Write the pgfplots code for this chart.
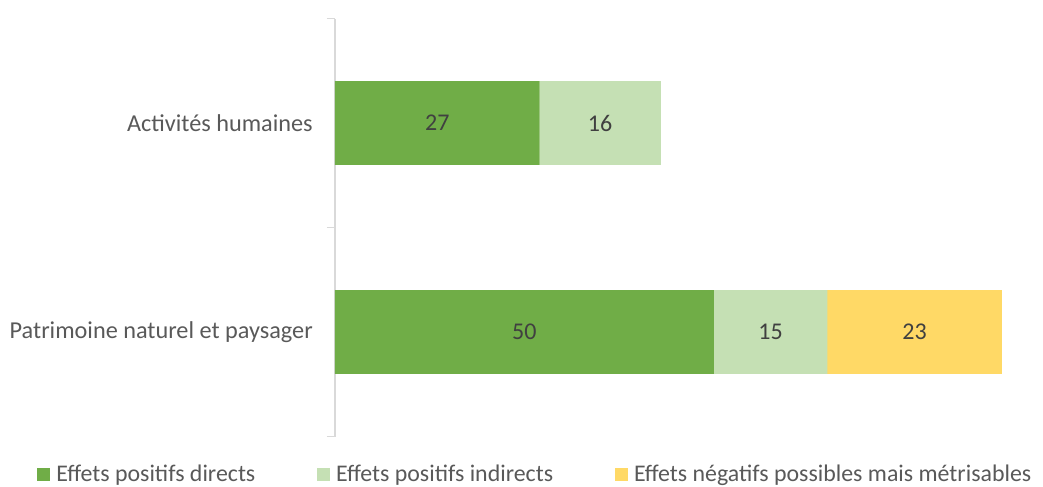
\documentclass[border=0pt]{standalone}
\usepackage{pgfplots}
\pgfplotsset{compat=1.18}
\usepackage{fontspec}
\setmainfont{Carlito}
\newdimen\pxu \pxu=0.75pt
\definecolor{gA}{HTML}{70AD47}
\definecolor{gB}{HTML}{C5E0B4}
\definecolor{yC}{HTML}{FFD966}
\definecolor{axc}{HTML}{D9D9D9}
\definecolor{txt}{HTML}{595959}
\definecolor{lbl}{HTML}{404040}
\begin{document}
\begin{tikzpicture}[font=\fontsize{18}{20}\selectfont]
\path[use as bounding box] (0,0) rectangle (1043\pxu,486\pxu);
\pgfplotsset{geom/.style={
  at={(335\pxu,49.5\pxu)}, anchor=south west, scale only axis,
  width=697\pxu, height=418\pxu,
  xmin=0, xmax=92, ymin=-0.5, ymax=1.5}}
\begin{axis}[geom,
  xbar stacked, bar width=0.4,
  axis x line=none, axis y line*=left,
  y axis line style={draw=axc, line width=1.5\pxu},
  ytick={0,1}, yticklabels={Patrimoine naturel et paysager, Activités humaines},
  major tick length=0pt,
  yticklabel style={text=txt, inner sep=0pt, xshift=-22\pxu, font=\fontsize{18.2}{20}\selectfont},
  extra y ticks={-0.5,0.5,1.5}, extra y tick labels={},
  extra y tick style={major tick length=8\pxu, tick align=outside,
    tick style={draw=axc, line width=1.5\pxu}},
  legend columns=3,
  legend style={at={(-0.4276,-0.0909)}, anchor=west, draw=none, fill=none,
    inner sep=0pt, text=txt, font=\fontsize{17.9}{20}\selectfont,
    /tikz/every odd column/.append style={column sep=3.5\pxu},
    /tikz/every even column/.append style={column sep=59\pxu}},
  legend image code/.code={\fill[#1] (0,-6.5\pxu) rectangle (13\pxu,6.5\pxu);},
]
\addplot[fill=gA, draw=none] coordinates {(50,0) (27,1)};
\addlegendentry{Effets positifs directs}
\addplot[fill=gB, draw=none] coordinates {(15,0) (16,1)};
\addlegendentry{Effets positifs indirects}
\addplot[fill=yC, draw=none] coordinates {(23,0) (0,1)};
\addlegendentry{Effets négatifs possibles mais métrisables}
\end{axis}
\begin{axis}[geom, hide axis]
\addplot[draw=none, nodes near coords, point meta=explicit symbolic,
  every node near coord/.append style={anchor=center, text=lbl}]
  coordinates {(13.5,1)[27] (35,1)[16] (25,0)[50] (57.5,0)[15] (76.5,0)[23]};
\end{axis}
\end{tikzpicture}
\end{document}
